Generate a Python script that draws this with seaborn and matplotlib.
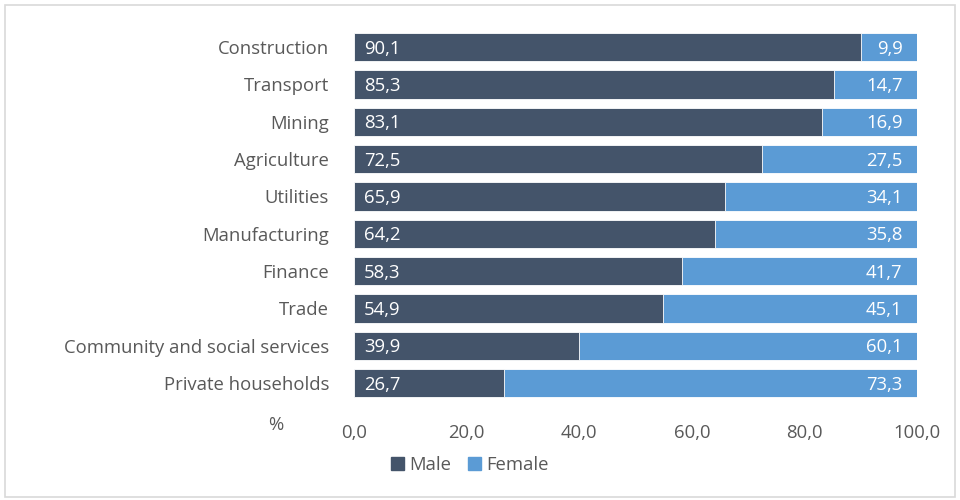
import numpy as np
import pandas as pd
from matplotlib import pyplot as plt
from matplotlib.patches import Rectangle, Patch
import seaborn as sns

sns.set_style("white")
plt.rcParams['font.family'] = ['Open Sans', 'DejaVu Sans']

# data (share of employment, %)
sectors = ['Construction', 'Transport', 'Mining', 'Agriculture', 'Utilities',
           'Manufacturing', 'Finance', 'Trade', 'Community and social services',
           'Private households']
male = [90.1, 85.3, 83.1, 72.5, 65.9, 64.2, 58.3, 54.9, 39.9, 26.7]
female = [9.9, 14.7, 16.9, 27.5, 34.1, 35.8, 41.7, 45.1, 60.1, 73.3]
xticks = [0, 20, 40, 60, 80, 100]

male_col = '#44546A'
female_col = '#5B9BD5'
grey = '#595959'
fs = 13.3

df = pd.DataFrame({'sector': sectors, 'male': male, 'female': female})
df['total'] = df['male'] + df['female']

fig = plt.figure(figsize=(9.6, 5), dpi=100)
ax = fig.add_axes([0.36875, 0.1966, 0.5865, 0.7467])

# stacked: full bar in female colour, male drawn over it
sns.barplot(data=df, x='total', y='sector', orient='h', color=female_col,
            width=0.76, edgecolor='white', linewidth=0.6, saturation=1, ax=ax)
sns.barplot(data=df, x='male', y='sector', orient='h', color=male_col,
            width=0.76, edgecolor='white', linewidth=0.6, saturation=1, ax=ax)

def fmt(v):
    return f'{v:.1f}'.replace('.', ',')

for i, row in df.iterrows():
    ax.text(1.8, i + 0.04, fmt(row['male']), color='white', va='center', ha='left', fontsize=fs)
    ax.text(row['total'] - 2.6, i + 0.04, fmt(row['female']), color='white', va='center',
            ha='right', fontsize=fs)

ax.set_xlim(0, 100)
ax.set_ylim(9.5, -0.5)
ax.set_xticks(xticks)
ax.set_xticklabels([fmt(t) for t in xticks], color=grey, fontsize=fs)
ax.set_xlabel('')
ax.set_ylabel('')
ax.tick_params(axis='x', length=0, pad=16)
ax.tick_params(axis='y', length=0, pad=18, labelsize=fs, labelcolor=grey)
for s in ax.spines.values():
    s.set_visible(False)

fig.text(276 / 960, 1 - 425 / 500, '%', color=grey, fontsize=fs, ha='center', va='center')

handles = [Patch(color=male_col, label='Male'), Patch(color=female_col, label='Female')]
leg = fig.legend(handles=handles, loc='center', bbox_to_anchor=(470 / 960, 1 - 465 / 500),
                 ncol=2, frameon=False, fontsize=fs, handlelength=0.7, handleheight=0.7,
                 handletextpad=0.3, columnspacing=0.9)
for t in leg.get_texts():
    t.set_color(grey)

# light frame around the picture
fig.patches.append(Rectangle((5 / 960, 3 / 500), 950 / 960, 492 / 500, transform=fig.transFigure,
                             fill=False, edgecolor='#d9d9d9', linewidth=1.2))

fig.savefig('out.png', dpi=100)
